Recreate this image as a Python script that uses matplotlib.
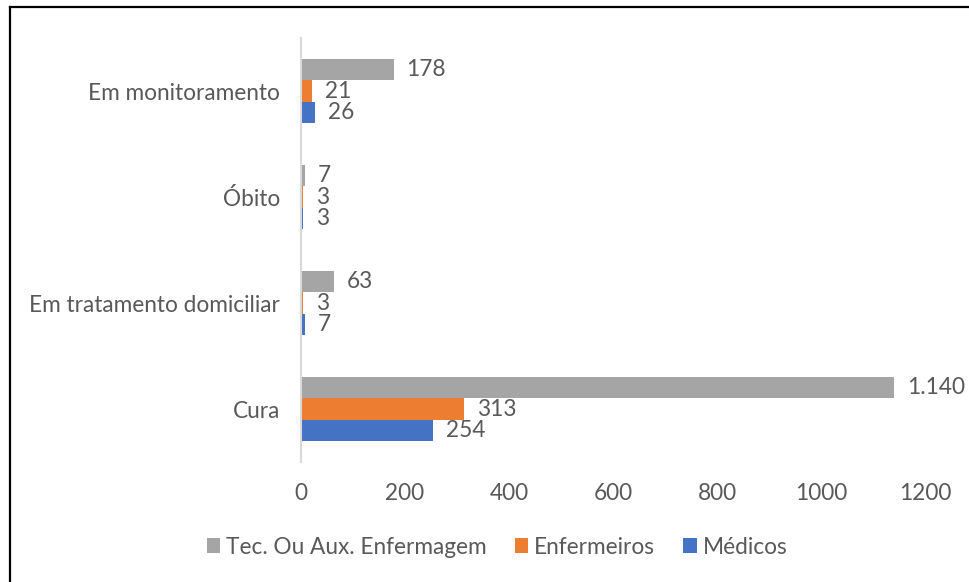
import matplotlib
matplotlib.use("Agg")
import matplotlib.pyplot as plt
from matplotlib.lines import Line2D
import numpy as np

categories = ["Cura", "Em tratamento domiciliar", "Óbito", "Em monitoramento"]
series_names = ["Tec. Ou Aux. Enfermagem", "Enfermeiros", "Médicos"]
tec = [1140, 63, 7, 178]
enf = [313, 3, 3, 21]
med = [254, 7, 3, 26]
colors = ["#A5A5A5", "#ED7D31", "#4472C4"]
xticks = [0, 200, 400, 600, 800, 1000, 1200]

plt.rcParams['font.family'] = ['Lato', 'DejaVu Sans']
txt = "#595959"
FS = 16.3

fig = plt.figure(figsize=(9.7, 5.82), dpi=100)
ax = fig.add_axes([301/970, 1-462/582, (925-301)/970, (462-38)/582])

y = np.arange(len(categories))
h = 0.2
offsets = [h, 0, -h]
for vals, off, c, name in zip([tec, enf, med], offsets, colors, series_names):
    bars = ax.barh(y + off, vals, height=h, color=c, label=name)
    for b, v in zip(bars, vals):
        lab = f"{v:,}".replace(",", ".")
        ax.annotate(lab, (b.get_width(), b.get_y() + b.get_height()/2),
                    xytext=(13, 0), textcoords='offset pixels',
                    ha='left', va='center', fontsize=FS, color=txt)

ax.set_xlim(0, 1200)
ax.set_ylim(-0.5, 3.5)
ax.set_xticks(xticks)
ax.set_xticklabels([str(t) for t in xticks])
ax.set_yticks(y)
ax.set_yticklabels(categories)
ax.tick_params(axis='both', length=0, labelsize=FS, colors=txt)
ax.tick_params(axis='x', pad=15)
ax.tick_params(axis='y', pad=15)
for s in ["top", "right", "bottom"]:
    ax.spines[s].set_visible(False)
ax.spines["left"].set_color("#D9D9D9")
ax.spines["left"].set_linewidth(1.5)

leg = fig.legend(loc='center', bbox_to_anchor=(497/970, 1-547/582), ncol=3,
                 frameon=False, fontsize=FS, handlelength=0.6, handleheight=0.6,
                 handletextpad=0.25, columnspacing=1.25)
for t in leg.get_texts():
    t.set_color(txt)

fig.add_artist(Line2D([10/970, 10/970], [0, 1-7/582], color='black', lw=1.6, transform=fig.transFigure))
fig.add_artist(Line2D([10/970, 1], [1-7/582, 1-7/582], color='black', lw=1.6, transform=fig.transFigure))

fig.savefig("out.png", dpi=100)
